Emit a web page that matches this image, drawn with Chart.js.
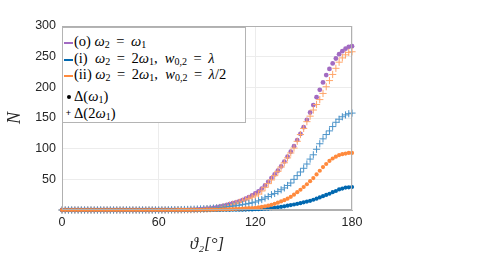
<!DOCTYPE html>
<html>
<head>
<meta charset="utf-8">
<script src="https://cdn.jsdelivr.net/npm/chart.js@4.4.0/dist/chart.umd.min.js"></script>
<style>
  body { margin: 0; background: #fff; }
  #wrap { position: relative; width: 482px; height: 263px; }
  #legend {
    position: absolute; left: 62px; top: 27px; width: 182px; height: 94px;
    background: #fff; border: 1px solid #b4b4b4;
    font-family: "Liberation Serif", "DejaVu Serif", serif; font-size: 14.5px; color: #000;
  }
  #legend .row { position: absolute; left: 1px; height: 17px; line-height: 17px; white-space: nowrap; }
  #legend .mk { display: inline-block; width: 9px; vertical-align: middle; margin-right: 1px; }
  #legend sub { font-size: 10px; vertical-align: -2px; line-height: 0; }
  #legend i { font-style: italic; }
</style>
</head>
<body>
<div id="wrap">
  <canvas id="myChart" width="482" height="263"></canvas>
  <div id="legend"></div>
</div>
<script>
// angle theta_2 in degrees
var theta = [0, 2, 4, 6, 8, 10, 12, 14, 16, 18, 20, 22, 24, 26, 28, 30, 32, 34, 36, 38, 40, 42, 44, 46, 48, 50,
    52, 54, 56, 58, 60, 62, 64, 66, 68, 70, 72, 74, 76, 78, 80, 82, 84, 86, 88, 90, 92, 94, 96, 98, 100,
    102, 104, 106, 108, 110, 112, 114, 116, 118, 120, 122, 124, 126, 128, 130, 132, 134, 136, 138, 140,
    142, 144, 146, 148, 150, 152, 154, 156, 158, 160, 162, 164, 166, 168, 170, 172, 174, 176, 178, 180];

// (o) w2 = w1, Delta(w1)
var caseO_w1 = [0, 0, 0, 0, 0, 0, 0, 0, 0, 0, 0, 0, 0, 0, 0, 0, 0, 0, 0, 0, 0, 0, 0, 0, 0, 0, 0, 0, 0, 0, 0, 0, 0,
    0.05, 0.07, 0.1, 0.1, 0.15, 0.2, 0.3, 0.4, 0.6, 0.9, 1.2, 1.6, 2.1, 2.7, 3.4, 4.3, 5.3, 6.5, 7.9, 9.5,
    11, 12.5, 14, 16, 18.5, 21, 24, 27, 30.5, 35, 40, 46, 52, 58, 64, 71, 79, 87, 95, 104, 114, 124, 135,
    147, 159, 171, 184, 196, 208, 220, 230, 239, 247, 254, 259, 263, 266, 267];

// (i) w2 = 2w1, w02 = lambda
var caseI_w1 = [0, 0, 0, 0, 0, 0, 0, 0, 0, 0, 0, 0, 0, 0, 0, 0, 0, 0, 0, 0, 0, 0, 0, 0, 0, 0, 0, 0, 0, 0, 0, 0, 0,
    0, 0, 0, 0, 0, 0, 0, 0, 0, 0, 0, 0, 0,
    0.1, 0.1, 0.15, 0.2, 0.25, 0.3, 0.35, 0.4, 0.45, 0.5, 0.6, 0.7, 0.85, 1, 1.2, 1.4, 1.7, 2, 2.4, 3, 3.7,
    4.5, 5.2, 6, 7, 8, 9, 10, 11.2, 12.5, 13.7, 15, 16.7, 18.5, 20.5, 22.5, 24.5, 26.5, 29, 31, 33.5, 35,
    36.5, 37, 37.5];
var caseI_2w1 = [0, 0, 0, 0, 0, 0, 0, 0, 0, 0, 0, 0, 0, 0, 0, 0, 0, 0, 0, 0, 0, 0, 0, 0, 0, 0, 0, 0, 0, 0, 0,
    0.1, 0.15, 0.2, 0.3, 0.4, 0.5, 0.6, 0.8, 0.9, 1.1, 1.3, 1.5, 1.7, 2, 2.3, 2.6, 3, 3.4, 3.9, 4.4, 5, 5.6,
    6.3, 7, 7.8, 8.7, 9.7, 10.7, 11.8, 13, 15, 17, 19.5, 22, 25, 27, 30, 33, 36, 40, 44, 50, 56, 62, 68, 75,
    83, 90, 99, 108, 116, 123, 129, 136, 143, 148, 152, 155, 157, 158];

// (ii) w2 = 2w1, w02 = lambda/2
var caseII_w1 = [0, 0, 0, 0, 0, 0, 0, 0, 0, 0, 0, 0, 0, 0, 0, 0, 0, 0, 0, 0, 0, 0, 0, 0, 0, 0, 0, 0, 0, 0, 0, 0,
    0, 0, 0, 0,
    0.05, 0.07, 0.1, 0.15, 0.2, 0.25, 0.3, 0.35, 0.4, 0.5, 0.55, 0.6, 0.7, 0.8, 1, 1.1, 1.3, 1.5, 1.7, 2,
    2.3, 2.6, 3, 3.3, 3.7, 4.2, 5, 6, 7, 8.5, 10, 12, 14, 16, 18.5, 21.5, 25, 29, 33, 37.5, 42, 47, 52, 58,
    64, 70, 75, 80, 84, 87, 89.5, 91, 92, 93, 93];
var caseII_2w1 = [0, 0, 0, 0, 0, 0, 0, 0, 0, 0, 0, 0, 0, 0, 0, 0, 0, 0, 0, 0, 0, 0, 0, 0, 0, 0, 0, 0, 0, 0, 0, 0, 0,
    0.03, 0.05, 0.07, 0.1, 0.1, 0.15, 0.2, 0.3, 0.4, 0.6, 0.8, 1.1, 1.5, 2, 2.6, 3.3, 4.2, 5.2, 6.4, 7.8,
    9.2, 10.8, 12.5, 14.3, 16.3, 18.5, 21, 23, 26, 31, 37, 43, 49, 56, 63, 70, 77, 85, 93, 101, 112, 123,
    133, 144, 153, 163, 172, 180, 190, 201, 211, 221, 231, 241, 248, 253, 257, 258];

var xTicks = [0, 60, 120, 180];
var yTicks = [50, 100, 150, 200, 250, 300];

var purple = '#a26bc2', purpleLine = '#a26bc2';
var blue = '#0068b0', blueLight = '#4b93c9';
var orange = '#ff8a3d', orangeLight = '#ffa66b';

function pts(vals) {
    return theta.map(function (t, i) { return { x: t, y: vals[i] }; });
}

function dots(vals, color, order, r) {
    return { data: pts(vals), pointStyle: 'circle', pointRadius: r, pointBackgroundColor: color,
        pointBorderColor: color, pointBorderWidth: 0, showLine: false, clip: false, order: order };
}
function plus(vals, color, order) {
    return { data: pts(vals), pointStyle: 'cross', pointRadius: 3.6, pointBorderColor: color,
        pointBorderWidth: 1, showLine: false, clip: false, order: order };
}

// box round the plot, MATLAB style
var boxPlugin = {
    id: 'box',
    afterDatasetsDraw: function (chart) {
        var a = chart.chartArea, ctx = chart.ctx;
        ctx.save();
        ctx.strokeStyle = '#b0b0b0';
        ctx.lineWidth = 1;
        ctx.strokeRect(Math.round(a.left) + 0.5, Math.round(a.top) + 0.5,
            Math.round(a.right - a.left) - 1, Math.round(a.bottom - a.top) - 1);
        ctx.restore();
    }
};

var ctx = document.getElementById('myChart').getContext('2d');
window.myChart = new Chart(ctx, {
    type: 'scatter',
    data: {
        datasets: [
            dots(caseO_w1, purple, 5, 2.4),
            plus(caseII_2w1, orangeLight, 4),
            plus(caseI_2w1, blueLight, 3),
            dots(caseII_w1, orange, 1, 2.1),
            dots(caseI_w1, blue, 2, 2.1)
        ]
    },
    options: {
        responsive: false,
        animation: false,
        layout: { padding: { left: 0, right: 130, top: 26, bottom: 0 } },
        plugins: { legend: { display: false }, tooltip: { enabled: false } },
        scales: {
            x: {
                type: 'linear', min: 0, max: 180,
                afterBuildTicks: function (s) { s.ticks = xTicks.map(function (v) { return { value: v }; }); },
                afterFit: function (s) { s.height = 53; },
                grid: { color: '#ececec', drawTicks: false },
                border: { color: '#b0b0b0' },
                ticks: { padding: 5, color: '#262626', maxRotation: 0,
                    font: { family: '"Liberation Sans", Arial, sans-serif', size: 12.5 } },
                title: { display: true, text: 'ϑ₂[°]', color: '#262626', padding: { top: 0, bottom: 8 },
                    font: { family: '"Liberation Serif", "DejaVu Serif", serif', size: 17, style: 'italic' } }
            },
            y: {
                min: 0, max: 300,
                afterBuildTicks: function (s) { s.ticks = yTicks.map(function (v) { return { value: v }; }); },
                afterFit: function (s) { s.width = 62; },
                grid: { color: '#ececec', drawTicks: false },
                border: { color: '#b0b0b0' },
                ticks: { padding: 6, color: '#262626',
                    font: { family: '"Liberation Sans", Arial, sans-serif', size: 12.5 } },
                title: { display: true, text: 'N', color: '#262626', padding: { top: 4, bottom: 0 },
                    font: { family: '"Liberation Serif", "DejaVu Serif", serif', size: 18, style: 'italic' } }
            }
        }
    },
    plugins: [boxPlugin]
});

// legend in the top-left corner of the axes
var EQ = '&nbsp;&thinsp;=&thinsp;&nbsp;';
var legendRows = [
    { mk: 'line', color: purpleLine, html: '(o) <i>ω</i><sub>2</sub>' + EQ + '<i>ω</i><sub>1</sub>', top: 5 },
    { mk: 'line', color: blue, html: '(i)&nbsp; <i>ω</i><sub>2</sub>' + EQ + '2<i>ω</i><sub>1</sub>,&nbsp; <i>w</i><sub>0,2</sub>' + EQ + '<i>λ</i>', top: 22 },
    { mk: 'line', color: orange, html: '(ii) <i>ω</i><sub>2</sub>' + EQ + '2<i>ω</i><sub>1</sub>,&nbsp; <i>w</i><sub>0,2</sub>' + EQ + '<i>λ</i>/2', top: 38 },
    { mk: 'dot', color: '#000', html: 'Δ(<i>ω</i><sub>1</sub>)', top: 60 },
    { mk: 'plus', color: '#000', html: 'Δ(2<i>ω</i><sub>1</sub>)', top: 77 }
];
var leg = document.getElementById('legend');
legendRows.forEach(function (r) {
    var row = document.createElement('div');
    row.className = 'row';
    row.style.top = r.top + 'px';
    var mk;
    if (r.mk === 'line') {
        mk = '<span class="mk" style="height:2px;background:' + r.color + '"></span>';
    } else if (r.mk === 'dot') {
        mk = '<span class="mk" style="height:9px;position:relative;top:-1px"><span style="position:absolute;left:3px;top:3px;width:4px;height:4px;border-radius:2px;background:#000"></span></span>';
    } else {
        mk = '<span class="mk" style="font-family:Arial;font-size:9px;line-height:9px;height:9px;text-align:center;top:-1px;position:relative">+</span>';
    }
    row.innerHTML = mk + r.html;
    leg.appendChild(row);
});
</script>
</body>
</html>
